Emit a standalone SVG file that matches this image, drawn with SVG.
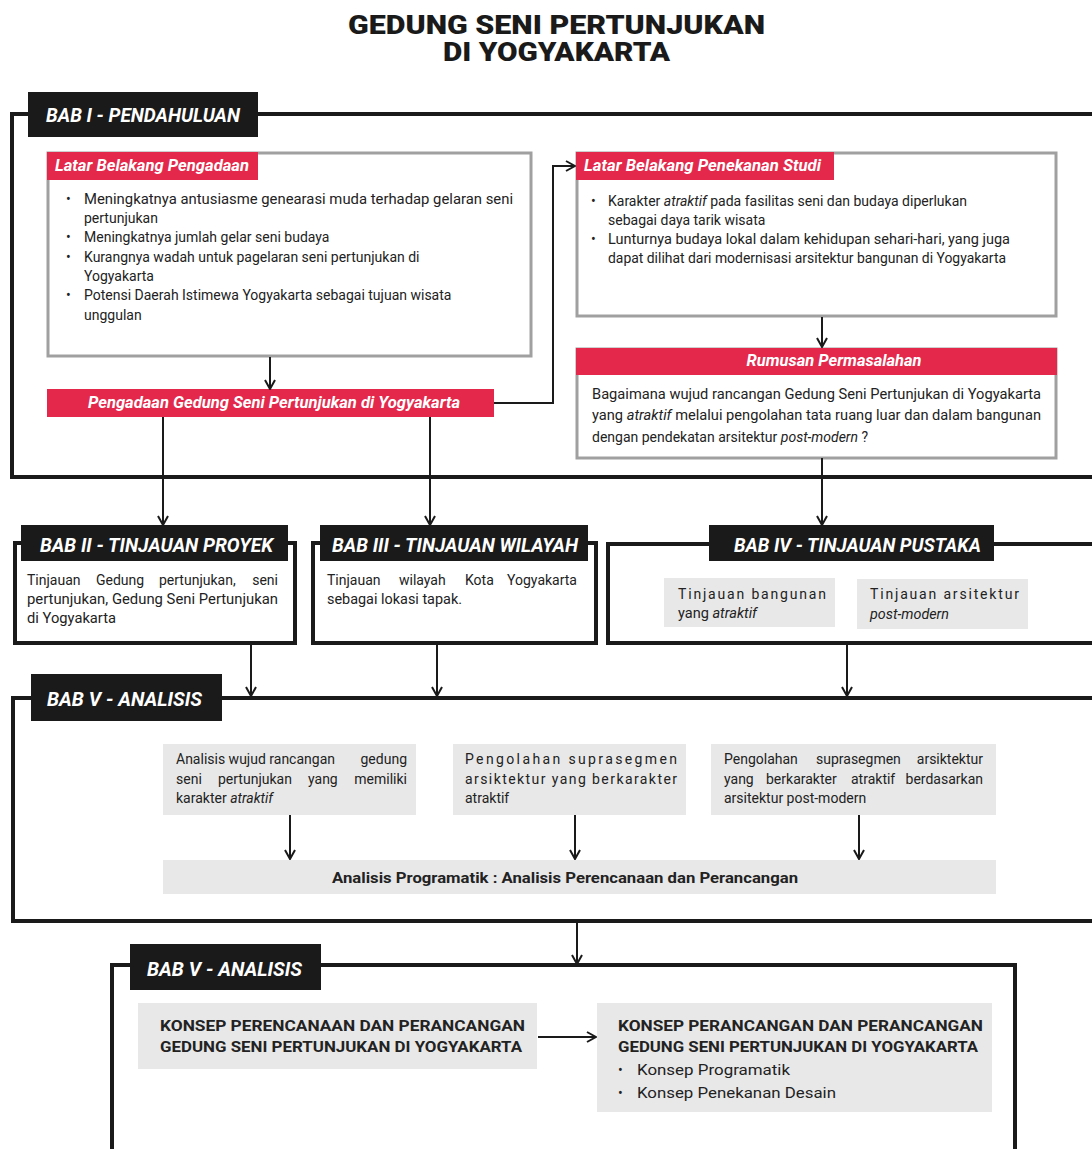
<svg xmlns="http://www.w3.org/2000/svg" width="1092" height="1149" viewBox="0 0 1092 1149">
<defs>
<style>
.frame{fill:none;stroke:#1a1a1a;stroke-width:4}
.lbl{fill:#1a1a1a}
.lbltx{font-family:Roboto,"Liberation Sans",sans-serif;font-weight:700;font-style:italic;fill:#fff;font-size:20px}
.gbox{fill:#fff;stroke:#a0a0a0;stroke-width:3}
.red{fill:#e3284b}
.redtx{font-family:Roboto,"Liberation Sans",sans-serif;font-weight:700;font-style:italic;fill:#fff;font-size:16px}
.tx{font-family:Roboto,"Liberation Sans",sans-serif;font-size:14px;fill:#222}
.cx{font-family:Roboto,"Liberation Sans",sans-serif;font-size:14px;fill:#222}
.bx{font-family:Roboto,"Liberation Sans",sans-serif;font-size:15px;font-weight:700;fill:#222}
.grey{fill:#e8e8e8}
.it{font-style:italic}
.conn{fill:none;stroke:#1a1a1a;stroke-width:2}
.title{font-family:Roboto,"Liberation Sans",sans-serif;font-weight:900;font-size:25px;fill:#1a1a1a}
</style>
<marker id="ah" viewBox="0 0 12 12" refX="11" refY="6" markerWidth="12" markerHeight="12" markerUnits="userSpaceOnUse" orient="auto">
<path d="M2,1 L11,6 L2,11" fill="none" stroke="#1a1a1a" stroke-width="2"/>
</marker>
</defs>
<rect width="1092" height="1149" fill="#fff"/>

<g id="title">
<text class="title" x="348" y="34" textLength="417" lengthAdjust="spacingAndGlyphs">GEDUNG SENI PERTUNJUKAN</text>
<text class="title" x="443" y="61" textLength="227" lengthAdjust="spacingAndGlyphs">DI YOGYAKARTA</text>
</g>

<g id="bab1">
<rect class="frame" x="12" y="114" width="1090" height="363"/>
<rect class="lbl" x="28" y="92" width="230" height="45"/>
<text class="lbltx" x="46" y="122" textLength="194" lengthAdjust="spacingAndGlyphs">BAB I - PENDAHULUAN</text>
</g>

<g id="latar-pengadaan">
<rect class="gbox" x="48" y="153" width="483" height="203"/>
<rect class="red" x="47" y="152" width="211" height="28"/>
<text class="redtx" x="55" y="171" textLength="194" lengthAdjust="spacingAndGlyphs">Latar Belakang Pengadaan</text>
<g class="tx">
<text x="66" y="204">•</text><text x="84" y="204" textLength="429" lengthAdjust="spacingAndGlyphs">Meningkatnya antusiasme genearasi muda terhadap gelaran seni</text>
<text x="84" y="223">pertunjukan</text>
<text x="66" y="242">•</text><text x="84" y="242">Meningkatnya jumlah gelar seni budaya</text>
<text x="66" y="262">•</text><text x="84" y="262">Kurangnya wadah untuk pagelaran seni pertunjukan di</text>
<text x="84" y="281">Yogyakarta</text>
<text x="66" y="300">•</text><text x="84" y="300">Potensi Daerah Istimewa Yogyakarta sebagai tujuan wisata</text>
<text x="84" y="320">unggulan</text>
</g>
</g>

<g id="pengadaan">
<rect class="red" x="47" y="389" width="447" height="28"/>
<text class="redtx" x="274" y="408" text-anchor="middle" textLength="372" lengthAdjust="spacingAndGlyphs">Pengadaan Gedung Seni Pertunjukan di Yogyakarta</text>
</g>

<g id="latar-penekanan">
<rect class="gbox" x="577" y="153" width="479" height="163"/>
<rect class="red" x="576" y="152" width="258" height="28"/>
<text class="redtx" x="584" y="171" textLength="237" lengthAdjust="spacingAndGlyphs">Latar Belakang Penekanan Studi</text>
<g class="tx">
<text x="591" y="206">•</text><text x="608" y="206" textLength="359" lengthAdjust="spacingAndGlyphs">Karakter <tspan class="it">atraktif</tspan> pada fasilitas seni dan budaya  diperlukan</text>
<text x="608" y="225">sebagai daya tarik wisata</text>
<text x="591" y="244">•</text><text x="608" y="244" textLength="402" lengthAdjust="spacingAndGlyphs">Lunturnya budaya lokal dalam kehidupan sehari-hari, yang juga</text>
<text x="608" y="263" textLength="398" lengthAdjust="spacingAndGlyphs">dapat dilihat dari modernisasi arsitektur bangunan di Yogyakarta</text>
</g>
</g>

<g id="rumusan">
<rect class="gbox" x="577" y="349" width="479" height="109"/>
<rect class="red" x="576" y="348" width="481" height="27"/>
<text class="redtx" x="834" y="366" text-anchor="middle" textLength="175" lengthAdjust="spacingAndGlyphs">Rumusan Permasalahan</text>
<g class="tx">
<text x="592" y="399" textLength="449" lengthAdjust="spacingAndGlyphs">Bagaimana wujud rancangan Gedung Seni Pertunjukan di Yogyakarta</text>
<text x="592" y="420" textLength="449" lengthAdjust="spacingAndGlyphs">yang <tspan class="it">atraktif</tspan> melalui pengolahan tata ruang luar dan dalam bangunan</text>
<text x="592" y="442">dengan pendekatan arsitektur <tspan class="it">post-modern</tspan> ?</text>
</g>
</g>

<g id="bab2">
<rect class="frame" x="15" y="543" width="280" height="100"/>
<rect class="lbl" x="21" y="525" width="267" height="36"/>
<text class="lbltx" x="40" y="552" font-size="19" textLength="233" lengthAdjust="spacingAndGlyphs">BAB II - TINJAUAN PROYEK</text>
<g class="tx">
<text x="27" y="585">Tinjauan</text>
<text x="96" y="585">Gedung</text>
<text x="159" y="585">pertunjukan,</text>
<text x="278" y="585" text-anchor="end">seni</text>
<text x="27" y="604" textLength="251" lengthAdjust="spacingAndGlyphs">pertunjukan, Gedung Seni Pertunjukan</text>
<text x="27" y="623" textLength="89" lengthAdjust="spacingAndGlyphs">di Yogyakarta</text>
</g>
</g>

<g id="bab3">
<rect class="frame" x="313" y="543" width="283" height="100"/>
<rect class="lbl" x="320" y="525" width="268" height="36"/>
<text class="lbltx" x="332" y="552" font-size="19" textLength="246" lengthAdjust="spacingAndGlyphs">BAB III - TINJAUAN WILAYAH</text>
<g class="tx">
<text x="327" y="585">Tinjauan</text>
<text x="399" y="585">wilayah</text>
<text x="465" y="585">Kota</text>
<text x="577" y="585" text-anchor="end">Yogyakarta</text>
<text x="327" y="604" textLength="135" lengthAdjust="spacingAndGlyphs">sebagai lokasi tapak.</text>
</g>
</g>

<g id="bab4">
<rect class="frame" x="608" y="544" width="494" height="99"/>
<rect class="lbl" x="709" y="525" width="285" height="36"/>
<text class="lbltx" x="734" y="552" font-size="19" textLength="247" lengthAdjust="spacingAndGlyphs">BAB IV - TINJAUAN PUSTAKA</text>
<rect class="grey" x="664" y="578" width="171" height="49"/>
<rect class="grey" x="857" y="579" width="171" height="50"/>
<g class="tx">
<text x="678" y="599" textLength="148" lengthAdjust="spacing">Tinjauan bangunan</text>
<text x="678" y="618" textLength="79" lengthAdjust="spacingAndGlyphs">yang <tspan class="it">atraktif</tspan></text>
<text x="870" y="599" textLength="149" lengthAdjust="spacing">Tinjauan arsitektur</text>
<text x="870" y="619" class="it" textLength="79" lengthAdjust="spacingAndGlyphs">post-modern</text>
</g>
</g>

<g id="bab5">
<rect class="frame" x="13" y="698" width="1090" height="223"/>
<rect class="lbl" x="31" y="674" width="191" height="47"/>
<text class="lbltx" x="47" y="706" textLength="155" lengthAdjust="spacingAndGlyphs">BAB V -  ANALISIS</text>
</g>

<g id="analisis-wujud">
<rect class="grey" x="163" y="744" width="253" height="71"/>
<g class="cx">
<text x="176" y="764">Analisis wujud rancangan</text>
<text x="407" y="764" text-anchor="end">gedung</text>
<text x="176" y="784">seni</text>
<text x="218" y="784">pertunjukan</text>
<text x="308" y="784">yang</text>
<text x="407" y="784" text-anchor="end">memiliki</text>
<text x="176" y="803">karakter <tspan class="it">atraktif</tspan></text>
</g>
</g>

<g id="pengolahan-1">
<rect class="grey" x="453" y="744" width="233" height="71"/>
<g class="cx">
<text x="465" y="764" textLength="212" lengthAdjust="spacing">Pengolahan suprasegmen</text>
<text x="465" y="784" textLength="212" lengthAdjust="spacing">arsiktektur yang berkarakter</text>
<text x="465" y="803">atraktif</text>
</g>
</g>

<g id="pengolahan-2">
<rect class="grey" x="711" y="744" width="285" height="71"/>
<g class="cx">
<text x="724" y="764">Pengolahan</text>
<text x="816" y="764">suprasegmen</text>
<text x="983" y="764" text-anchor="end">arsiktektur</text>
<text x="724" y="784">yang</text>
<text x="766" y="784">berkarakter</text>
<text x="851" y="784">atraktif</text>
<text x="983" y="784" text-anchor="end">berdasarkan</text>
<text x="724" y="803">arsitektur post-modern</text>
</g>
</g>

<g id="programatik">
<rect class="grey" x="163" y="860" width="833" height="34"/>
<text class="bx" x="565" y="883" text-anchor="middle" font-size="16" textLength="466" lengthAdjust="spacingAndGlyphs">Analisis Programatik : Analisis Perencanaan dan Perancangan</text>
</g>

<g id="bab5b">
<rect class="frame" x="112" y="965" width="903" height="190"/>
<rect class="lbl" x="130" y="944" width="191" height="46"/>
<text class="lbltx" x="147" y="976" textLength="155" lengthAdjust="spacingAndGlyphs">BAB V -  ANALISIS</text>
</g>

<g id="konsep-1">
<rect class="grey" x="138" y="1003" width="399" height="66"/>
<text class="bx" x="160" y="1031" textLength="365" lengthAdjust="spacingAndGlyphs">KONSEP PERENCANAAN DAN PERANCANGAN</text>
<text class="bx" x="160" y="1052" textLength="362" lengthAdjust="spacingAndGlyphs">GEDUNG SENI PERTUNJUKAN DI YOGYAKARTA</text>
</g>

<g id="konsep-2">
<rect class="grey" x="597" y="1003" width="395" height="109"/>
<text class="bx" x="618" y="1031" textLength="365" lengthAdjust="spacingAndGlyphs">KONSEP PERANCANGAN DAN PERANCANGAN</text>
<text class="bx" x="618" y="1052" textLength="360" lengthAdjust="spacingAndGlyphs">GEDUNG SENI PERTUNJUKAN DI YOGYAKARTA</text>
<g class="cx" font-size="15">
<text x="618" y="1075">•</text><text x="637" y="1075" textLength="153" lengthAdjust="spacingAndGlyphs">Konsep Programatik</text>
<text x="618" y="1098">•</text><text x="637" y="1098" textLength="199" lengthAdjust="spacingAndGlyphs">Konsep Penekanan Desain</text>
</g>
</g>

<g id="connectors">
<path class="conn" d="M270,357 V389" marker-end="url(#ah)"/>
<path class="conn" d="M494,403 H553 V166 H575" marker-end="url(#ah)"/>
<path class="conn" d="M822,317 V347" marker-end="url(#ah)"/>
<path class="conn" d="M822,458 V525" marker-end="url(#ah)"/>
<path class="conn" d="M163,417 V525" marker-end="url(#ah)"/>
<path class="conn" d="M430,417 V525" marker-end="url(#ah)"/>
<path class="conn" d="M251,645 V696" marker-end="url(#ah)"/>
<path class="conn" d="M437,645 V696" marker-end="url(#ah)"/>
<path class="conn" d="M847,645 V696" marker-end="url(#ah)"/>
<path class="conn" d="M290,815 V859" marker-end="url(#ah)"/>
<path class="conn" d="M575,815 V859" marker-end="url(#ah)"/>
<path class="conn" d="M859,815 V859" marker-end="url(#ah)"/>
<path class="conn" d="M577,923 V964" marker-end="url(#ah)"/>
<path class="conn" d="M538,1037 H596" marker-end="url(#ah)"/>
</g>
</svg>
